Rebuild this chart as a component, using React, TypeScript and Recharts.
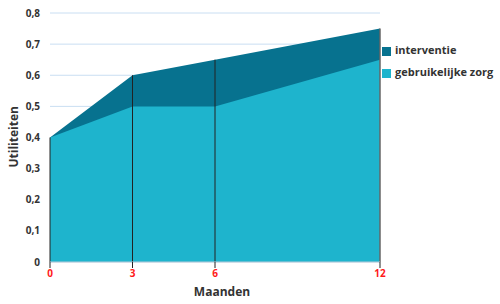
import React from 'react';
import { AreaChart, Area, XAxis, YAxis, CartesianGrid, Legend, ReferenceLine } from 'recharts';

const maanden = [0, 3, 6, 12];
const interventie = [0.4, 0.6, 0.65, 0.75];
const gebruikelijkeZorg = [0.4, 0.5, 0.5, 0.65];
const yTicks = [0, 0.1, 0.2, 0.3, 0.4, 0.5, 0.6, 0.7, 0.8];
const legendOrder = ['interventie', 'gebruikelijke zorg'];

const data = maanden.map((m, i) => ({
  maand: m,
  interventie: interventie[i],
  zorg: gebruikelijkeZorg[i],
}));

const font = '"Open Sans", sans-serif';
const fmt = (v: number) => String(v).replace('.', ',');

const App: React.FC = () => (
  <div style={{ position: 'absolute', left: 0, top: 0, fontFamily: font }}>
    <AreaChart width={500} height={304} data={data} margin={{ top: 13, right: 2, left: 0, bottom: 12 }}>
      <CartesianGrid vertical={false} stroke="#c9def2" />
      <XAxis
        dataKey="maand"
        type="number"
        domain={[0, 12]}
        ticks={maanden}
        height={30}
        tick={{ fill: '#ff1a1a', fontSize: 10, fontWeight: 700, fontFamily: font }}
        axisLine={{ stroke: '#b9cbd8' }}
        tickLine={{ stroke: '#222' }}
        tickSize={6}
        label={{ value: 'Maanden', position: 'bottom', offset: -5, dx: 7, fill: '#333', fontSize: 12, fontWeight: 700, fontFamily: font }}
      />
      <YAxis
        width={50}
        domain={[0, 0.8]}
        ticks={yTicks}
        tickFormatter={fmt}
        tick={{ fill: '#333', fontSize: 10, fontWeight: 700, fontFamily: font }}
        axisLine={false}
        tickLine={false}
        tickMargin={4}
        label={{ value: 'Utiliteiten', angle: -90, position: 'insideLeft', offset: 14, dy: 30, fill: '#333', fontSize: 12, fontWeight: 700, fontFamily: font }}
      />
      <Area type="linear" dataKey="interventie" name="interventie" stroke="none" fill="#07728f" fillOpacity={1} isAnimationActive={false} />
      <Area type="linear" dataKey="zorg" name="gebruikelijke zorg" stroke="none" fill="#1eb4cd" fillOpacity={1} isAnimationActive={false} />
      <ReferenceLine segment={[{ x: 0, y: 0 }, { x: 0, y: interventie[0] }]} stroke="#222" />
      <ReferenceLine segment={[{ x: 3, y: 0 }, { x: 3, y: interventie[1] }]} stroke="#222" />
      <ReferenceLine segment={[{ x: 6, y: 0 }, { x: 6, y: interventie[2] }]} stroke="#222" />
      <ReferenceLine segment={[{ x: 12, y: 0 }, { x: 12, y: interventie[3] }]} stroke="#666" strokeWidth={1.5} />
      <Legend
        layout="vertical"
        align="right"
        verticalAlign="top"
        iconType="square"
        iconSize={9}
        itemSorter={(item: any) => legendOrder.indexOf(item.value)}
        wrapperStyle={{ left: 382, top: 39, width: 118, fontSize: 11, fontWeight: 700, lineHeight: '22px', whiteSpace: 'nowrap' }}
        formatter={(value: string) => <span style={{ color: '#333', whiteSpace: 'nowrap' }}>{value}</span>}
      />
    </AreaChart>
  </div>
);

export default App;
